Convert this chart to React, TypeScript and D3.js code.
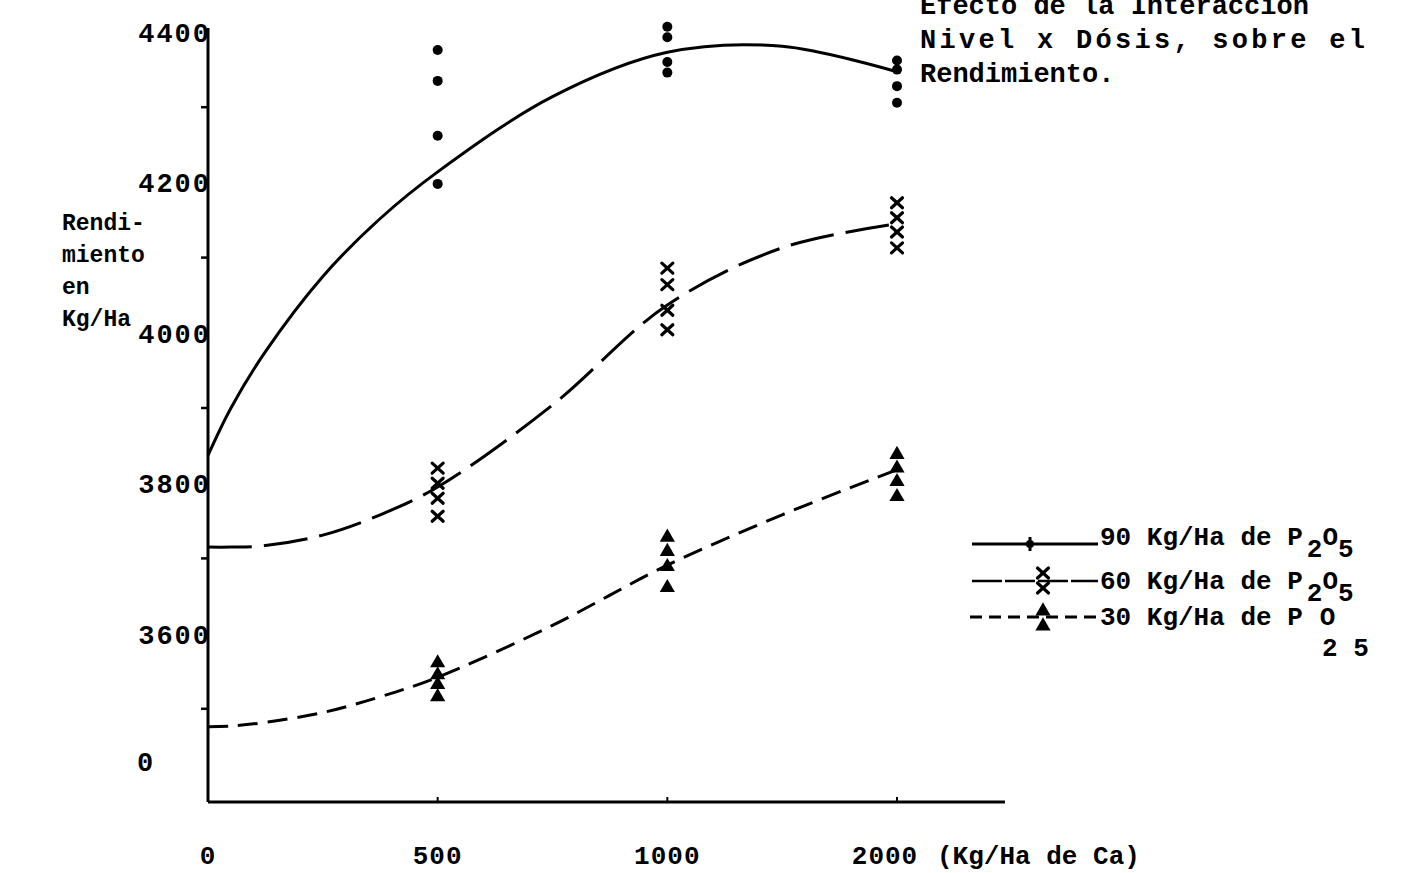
import React from 'react';
import * as d3 from 'd3';

// doses of Ca (x categories) and the tick labels
const doseLabels = ['0', '500', '1000', '2000'];
const yTickValues = [4400, 4200, 4000, 3800, 3600];
const yMinorTicks = [4300, 4100, 3900, 3700, 3500];
const breakLabel = '0';
const breakValue = 3430;

// observed yields (Kg/Ha) at each dose, one list per dose
const obs90 = [[], [4376, 4335, 4262, 4198], [4407, 4393, 4360, 4346], [4362, 4350, 4328, 4306]];
const obs60 = [[], [3820, 3800, 3780, 3756], [4086, 4064, 4030, 4004], [4173, 4153, 4134, 4113]];
const obs30 = [[], [3561, 3545, 3532, 3516], [3728, 3709, 3689, 3661], [3838, 3820, 3802, 3782]];

// hand-drawn fitted curves, read along the dose axis (position in dose steps)
const fitSteps = [0, 0.1, 0.25, 0.5, 0.75, 1, 1.5, 2, 2.5, 3];
const fit90 = [3837, 3900, 3975, 4075, 4152, 4214, 4314, 4373, 4381, 4347];
const fit60 = [3715, 3715, 3717, 3731, 3758, 3795, 3904, 4037, 4113, 4145];
const fit30 = [3476, 3477, 3482, 3495, 3516, 3542, 3611, 3691, 3758, 3818];

const titleLines = ['Efecto de la Interacción', 'Nivel x Dósis, sobre el', 'Rendimiento.'];
const yAxisLines = ['Rendi-', 'miento', 'en', 'Kg/Ha'];
const legendRates = ['90', '60', '30'];

const W = 1410;
const H = 873;
const FONT = '"Liberation Mono", "DejaVu Sans Mono", monospace';

const x = d3.scaleLinear().domain([0, 3]).range([208, 897]);
const y = d3.scaleLinear().domain([3400, 4400]).range([784, 32]);
const axisBottom = 802;

const line = d3
  .line<number>()
  .x((_, i) => x(fitSteps[i]))
  .y((d) => y(d))
  .curve(d3.curveCatmullRom.alpha(0.5));

const tri = d3.symbol().type(d3.symbolTriangle).size(100);

const Cross = ({ cx, cy }: { cx: number; cy: number }) => (
  <g stroke="#000" strokeWidth={3.2} strokeLinecap="round">
    <line x1={cx - 5.5} y1={cy - 5} x2={cx + 5.5} y2={cy + 5} />
    <line x1={cx - 5.5} y1={cy + 5} x2={cx + 5.5} y2={cy - 5} />
  </g>
);

export default function App() {
  const textStyle = { fontFamily: FONT, fontWeight: 700 as const, fill: '#000' };
  return (
    <svg width={W} height={H} style={{ position: 'absolute', left: 0, top: 0, background: '#fff' }}>
      {/* title */}
      {titleLines.map((t, i) => (
        <text
          key={t}
          x={920}
          y={14 + i * 34}
          fontSize={27}
          style={textStyle}
          textLength={i === 1 ? 445 : undefined}
          lengthAdjust="spacing"
        >
          {t}
        </text>
      ))}

      {/* y axis label */}
      {yAxisLines.map((t, i) => (
        <text key={t} x={62} y={230 + i * 32} fontSize={23} style={textStyle}>
          {t}
        </text>
      ))}

      {/* axes */}
      <line x1={208} y1={28} x2={208} y2={axisBottom} stroke="#000" strokeWidth={3} />
      <line x1={208} y1={axisBottom} x2={x(3.47)} y2={axisBottom} stroke="#000" strokeWidth={3} />
      {yMinorTicks.map((v) => (
        <line key={v} x1={201} y1={y(v)} x2={208} y2={y(v)} stroke="#000" strokeWidth={2.5} />
      ))}
      {yTickValues.map((v) => (
        <text key={v} x={211} y={y(v) + 10} fontSize={27} letterSpacing={2} textAnchor="end" style={textStyle}>
          {v}
        </text>
      ))}
      <text x={145} y={y(breakValue) + 10} fontSize={27} textAnchor="middle" style={textStyle}>
        {breakLabel}
      </text>
      {doseLabels.map((d, i) => (
        <g key={d}>
          {i > 0 && <line x1={x(i)} y1={axisBottom - 5} x2={x(i)} y2={axisBottom} stroke="#000" strokeWidth={2} />}
          <text x={i === 3 ? x(i) - 12 : x(i)} y={864} fontSize={26} letterSpacing={1} textAnchor="middle" style={textStyle}>
            {d}
          </text>
        </g>
      ))}
      <text x={937} y={864} fontSize={26} style={textStyle}>
        (Kg/Ha de Ca)
      </text>

      {/* fitted curves */}
      <path d={line(fit90) || ''} fill="none" stroke="#000" strokeWidth={3} />
      <path d={line(fit60) || ''} fill="none" stroke="#000" strokeWidth={3} strokeDasharray="44,12" />
      <path d={line(fit30) || ''} fill="none" stroke="#000" strokeWidth={3} strokeDasharray="20,10" />

      {/* observations */}
      {obs90.map((vals, i) =>
        vals.map((v, j) => <circle key={`a${i}-${j}`} cx={x(i)} cy={y(v)} r={5} fill="#000" />)
      )}
      {obs60.map((vals, i) => vals.map((v, j) => <Cross key={`b${i}-${j}`} cx={x(i)} cy={y(v)} />))}
      {obs30.map((vals, i) =>
        vals.map((v, j) => (
          <path key={`c${i}-${j}`} d={tri() || ''} transform={`translate(${x(i)},${y(v)})`} fill="#000" />
        ))
      )}

      {/* legend */}
      <g>
        <line x1={972} y1={544} x2={1098} y2={544} stroke="#000" strokeWidth={3} />
        <line x1={1030} y1={537} x2={1030} y2={551} stroke="#000" strokeWidth={3} />
        <circle cx={1030} cy={544} r={4} fill="#000" />

        <line x1={972} y1={581} x2={1098} y2={581} stroke="#000" strokeWidth={2.5} strokeDasharray="30,3" />
        <Cross cx={1043} cy={573} />
        <Cross cx={1043} cy={588} />

        <line x1={970} y1={617} x2={1098} y2={617} stroke="#000" strokeWidth={3} strokeDasharray="12,7" />
        <path d={tri() || ''} transform="translate(1043,611)" fill="#000" />
        <path d={tri() || ''} transform="translate(1043,626)" fill="#000" />

        {legendRates.map((r, i) => (
          <text key={r} x={1100} y={[545, 589, 625][i]} fontSize={26} style={textStyle}>
            {`${r} Kg/Ha de P`}
            {i < 2 ? (
              <>
                <tspan dx={4} dy={12}>2</tspan>
                <tspan dy={-12}>O</tspan>
                <tspan dy={12}>5</tspan>
              </>
            ) : (
              <tspan dx={17}>O</tspan>
            )}
          </text>
        ))}
        <text x={1322} y={656} fontSize={26} style={textStyle}>
          2 5
        </text>
      </g>
    </svg>
  );
}
